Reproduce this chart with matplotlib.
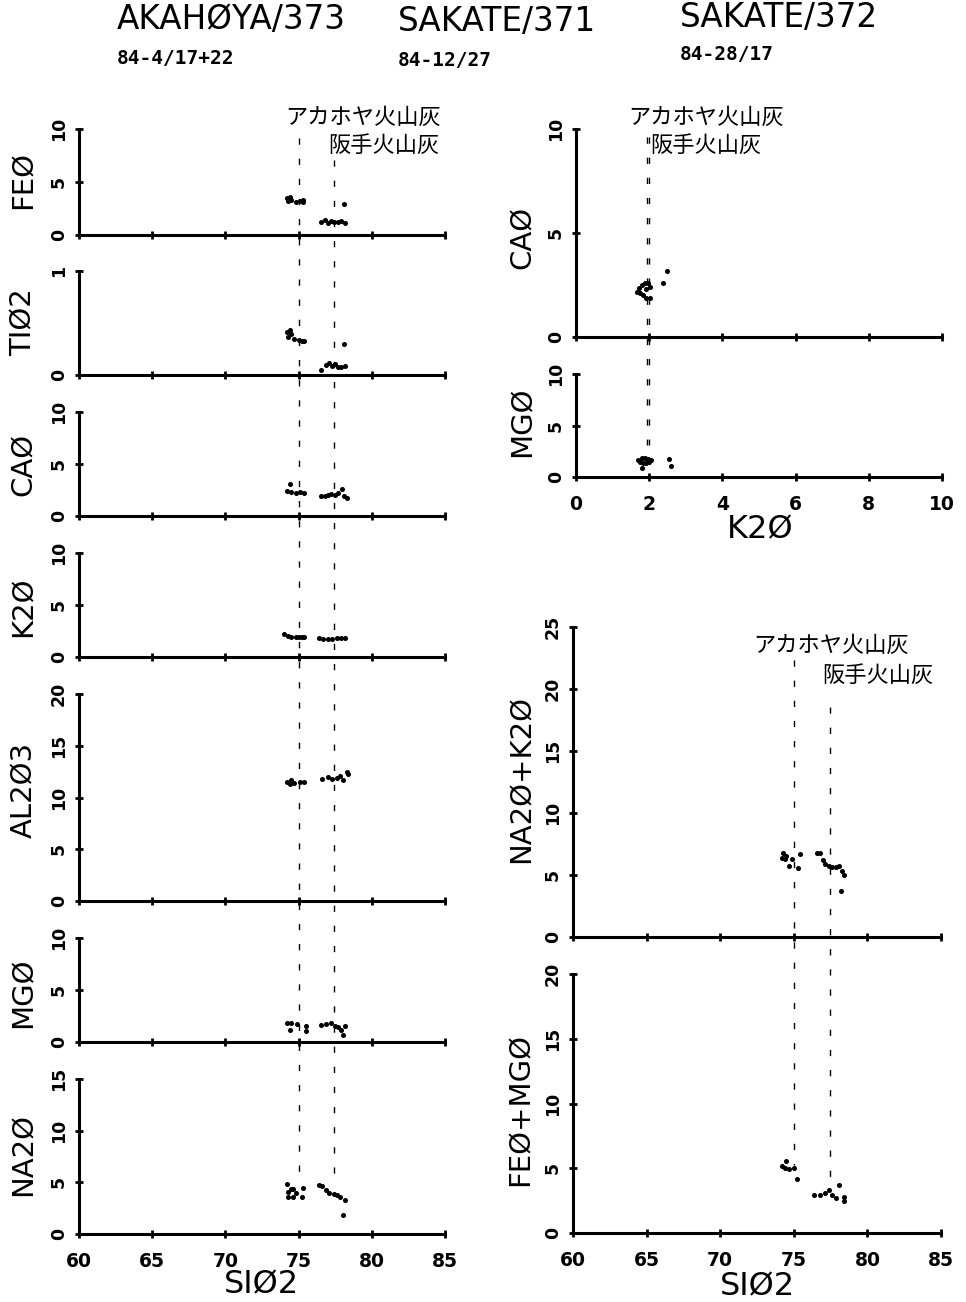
import matplotlib
matplotlib.use("Agg")
import matplotlib.pyplot as plt

# ---------------- data ----------------
SIO2_TICKS = [60, 65, 70, 75, 80, 85]
K2O_TICKS = [0, 2, 4, 6, 8, 10]

TITLES = ["AKAHØYA/373", "SAKATE/371", "SAKATE/372"]
SUBTITLES = ["84-4/17+22", "84-12/27", "84-28/17"]
ASH_AKA = "アカホヤ火山灰"
ASH_SAK = "阪手火山灰"

# left column: oxide vs SiO2 (Akahoya cluster / Sakate cluster)
FEO_AKA_X = [74.2, 74.4, 74.5, 74.3, 74.8, 75.1, 75.3, 75.3]
FEO_AKA_Y = [3.5, 3.6, 3.3, 3.2, 3.1, 3.2, 3.1, 3.3]
FEO_SAK_X = [76.5, 76.8, 77.0, 77.2, 77.4, 77.7, 77.9, 78.2, 78.1]
FEO_SAK_Y = [1.25, 1.4, 1.1, 1.35, 1.25, 1.2, 1.3, 1.1, 2.9]

TIO2_AKA_X = [74.2, 74.4, 74.5, 74.3, 74.7, 75.0, 75.2, 75.4]
TIO2_AKA_Y = [0.41, 0.43, 0.39, 0.37, 0.35, 0.34, 0.33, 0.33]
TIO2_SAK_X = [76.5, 76.9, 77.1, 77.3, 77.5, 77.7, 77.9, 78.2, 78.1]
TIO2_SAK_Y = [0.05, 0.10, 0.12, 0.09, 0.11, 0.08, 0.08, 0.09, 0.30]

CAO_AKA_X = [74.4, 74.2, 74.5, 74.8, 75.1, 75.4]
CAO_AKA_Y = [3.1, 2.45, 2.3, 2.25, 2.3, 2.25]
CAO_SAK_X = [76.5, 76.8, 77.0, 77.2, 77.5, 77.7, 77.95, 78.1, 78.3]
CAO_SAK_Y = [1.9, 1.95, 2.05, 2.15, 2.05, 2.25, 2.6, 1.95, 1.7]

K2O_AKA_X = [74.0, 74.3, 74.5, 74.8, 75.0, 75.2, 75.4]
K2O_AKA_Y = [2.2, 2.0, 1.9, 1.95, 1.95, 1.9, 1.95]
K2O_SAK_X = [76.4, 76.7, 77.0, 77.3, 77.6, 77.9, 78.2]
K2O_SAK_Y = [1.85, 1.75, 1.7, 1.75, 1.85, 1.8, 1.85]

AL2O3_AKA_X = [74.2, 74.5, 74.7, 74.4, 75.1, 75.4]
AL2O3_AKA_Y = [11.5, 11.7, 11.4, 11.3, 11.5, 11.45]
AL2O3_SAK_X = [76.6, 77.0, 77.3, 77.6, 77.8, 78.0, 78.4, 78.3]
AL2O3_SAK_Y = [11.8, 11.95, 11.8, 11.9, 12.1, 11.7, 12.3, 12.5]

MGO_AKA_X = [74.2, 74.5, 74.9, 74.4, 75.5, 75.5]
MGO_AKA_Y = [1.85, 1.8, 1.75, 1.2, 1.5, 1.1]
MGO_SAK_X = [76.5, 76.9, 77.2, 77.5, 77.7, 77.9, 78.0, 78.2]
MGO_SAK_Y = [1.65, 1.7, 1.8, 1.55, 1.4, 1.2, 0.7, 1.5]

NA2O_AKA_X = [74.2, 74.3, 74.5, 74.6, 74.8, 75.3, 74.3, 74.6, 75.2]
NA2O_AKA_Y = [4.85, 4.1, 4.35, 4.4, 3.95, 4.5, 3.6, 3.6, 3.6]
NA2O_SAK_X = [76.4, 76.6, 76.9, 77.1, 77.4, 77.6, 77.8, 78.2, 78.0]
NA2O_SAK_Y = [4.75, 4.65, 4.3, 4.0, 3.9, 3.8, 3.6, 3.3, 1.8]

# right top: CaO and MgO vs K2O
CAO_K2O_X = [1.66, 1.73, 1.79, 1.88, 1.97, 2.01, 1.92, 1.83, 1.92, 2.01, 1.75, 2.48, 2.39]
CAO_K2O_Y = [2.18, 2.34, 2.50, 2.58, 2.58, 2.42, 2.29, 2.02, 1.86, 1.86, 2.10, 3.19, 2.58]
MGO_K2O_X = [1.70, 1.79, 1.88, 1.97, 2.06, 1.83, 1.92, 1.79, 2.55, 2.60, 1.75, 2.00]
MGO_K2O_Y = [1.65, 1.80, 1.85, 1.70, 1.65, 1.35, 1.35, 0.90, 1.70, 1.05, 1.50, 1.50]

# right bottom: Na2O+K2O and FeO+MgO vs SiO2
ALK_AKA_X = [74.3, 74.2, 74.4, 74.5, 74.9, 74.7, 75.3, 75.4]
ALK_AKA_Y = [6.75, 6.4, 6.3, 6.5, 6.3, 5.75, 5.6, 6.7]
ALK_SAK_X = [76.55, 76.8, 77.0, 77.1, 77.4, 77.6, 77.85, 78.1, 78.3, 78.4, 78.2]
ALK_SAK_Y = [6.75, 6.75, 6.2, 5.9, 5.7, 5.65, 5.65, 5.7, 5.3, 5.0, 3.7]

FM_AKA_X = [74.2, 74.4, 74.5, 74.7, 75.0, 75.2]
FM_AKA_Y = [5.2, 5.0, 5.55, 4.95, 5.05, 4.2]
FM_SAK_X = [76.4, 76.8, 77.1, 77.4, 77.6, 77.9, 78.1, 78.4, 78.4]
FM_SAK_Y = [2.93, 2.93, 3.06, 3.3, 2.93, 2.67, 3.7, 2.8, 2.5]

# reference (dashed) lines
REF_SIO2 = [75.0, 77.45]
REF_K2O = [1.93, 2.0]

# ---------------- figure ----------------
W, H = 966, 1302
fig = plt.figure(figsize=(W / 100, H / 100), dpi=100)

LF = "DejaVu Sans"
MONO = "DejaVu Sans Mono"
JP = ["Noto Sans CJK JP", "DejaVu Sans"]


def fbox(l, r, t, b):
    return [l / W, 1 - b / H, (r - l) / W, (b - t) / H]


def ftext(x, y, s, **kw):
    fig.text(x / W, 1 - y / H, s, **kw)


def panel(l, r, t, b, xlim, xticks, ylim, yticks, xlabels=False, xpad=10):
    ax = fig.add_axes(fbox(l, r, t, b))
    ax.set_xlim(xlim)
    ax.set_ylim(ylim)
    ax.set_xticks(xticks)
    ax.set_yticks(yticks)
    ax.patch.set_visible(False)
    for s in ("top", "right"):
        ax.spines[s].set_visible(False)
    for s in ("left", "bottom"):
        ax.spines[s].set_linewidth(2.2)
    ax.tick_params(axis="both", direction="inout", length=6, width=2, color="black")
    ax.tick_params(axis="y", pad=5)
    ax.set_yticklabels([str(v) for v in yticks], rotation=90, va="center",
                       fontfamily=LF, fontweight="bold", fontsize=12.5)
    if xlabels:
        ax.set_xticklabels([str(v) for v in xticks], fontfamily=LF,
                           fontweight="bold", fontsize=13.5)
        ax.tick_params(axis="x", pad=xpad)
    else:
        ax.set_xticklabels([])
    return ax


def dots(ax, x, y):
    ax.plot(x, y, "o", ms=2.6, color="black", mec="black", clip_on=False, zorder=5)


DASH = (0, (4.5, 10))

# ---- left column ----
LX = (79, 445)
left = [
    ("FEØ", 129, 235, (0, 10), [0, 5, 10], FEO_AKA_X, FEO_AKA_Y, FEO_SAK_X, FEO_SAK_Y, 180),
    ("TIØ2", 271, 375, (0, 1), [0, 1], TIO2_AKA_X, TIO2_AKA_Y, TIO2_SAK_X, TIO2_SAK_Y, 322),
    ("CAØ", 412, 516, (0, 10), [0, 5, 10], CAO_AKA_X, CAO_AKA_Y, CAO_SAK_X, CAO_SAK_Y, 464),
    ("K2Ø", 553, 657, (0, 10), [0, 5, 10], K2O_AKA_X, K2O_AKA_Y, K2O_SAK_X, K2O_SAK_Y, 607),
    ("AL2Ø3", 694, 901, (0, 20), [0, 5, 10, 15, 20], AL2O3_AKA_X, AL2O3_AKA_Y, AL2O3_SAK_X, AL2O3_SAK_Y, 790),
    ("MGØ", 938, 1042, (0, 10), [0, 5, 10], MGO_AKA_X, MGO_AKA_Y, MGO_SAK_X, MGO_SAK_Y, 993),
    ("NA2Ø", 1079, 1234, (0, 15), [0, 5, 10, 15], NA2O_AKA_X, NA2O_AKA_Y, NA2O_SAK_X, NA2O_SAK_Y, 1154),
]
for i, (lab, t, b, yl, yt, ax_, ay_, sx_, sy_, lc) in enumerate(left):
    last = i == len(left) - 1
    ax = panel(LX[0], LX[1], t, b, (60, 85), SIO2_TICKS, yl, yt, xlabels=last, xpad=10)
    dots(ax, ax_, ay_)
    dots(ax, sx_, sy_)
    ftext(24, lc, lab, rotation=90, ha="center", va="center", fontfamily=LF, fontsize=21)
ftext(261, 1285, "SIØ2", ha="center", va="center", fontfamily=LF, fontsize=23)

ov = fig.add_axes(fbox(LX[0], LX[1], 0, H))
ov.set_xlim(60, 85)
ov.set_ylim(H, 0)
ov.axis("off")
ov.vlines(REF_SIO2[0], 138, 1180, colors="black", lw=1.0, linestyles=[DASH])
ov.vlines(REF_SIO2[1], 160, 1178, colors="black", lw=1.0, linestyles=[DASH])
ftext(285, 117, ASH_AKA, ha="left", va="center", fontfamily=JP, fontsize=16)
ftext(328, 145, ASH_SAK, ha="left", va="center", fontfamily=JP, fontsize=16)

# ---- right top ----
RX = (576, 942)
axc = panel(RX[0], RX[1], 129, 337, (0, 10), K2O_TICKS, (0, 10), [0, 5, 10])
dots(axc, CAO_K2O_X, CAO_K2O_Y)
ftext(523, 237, "CAØ", rotation=90, ha="center", va="center", fontfamily=LF, fontsize=21)
axm = panel(RX[0], RX[1], 374, 477, (0, 10), K2O_TICKS, (0, 10), [0, 5, 10], xlabels=True, xpad=10)
dots(axm, MGO_K2O_X, MGO_K2O_Y)
ftext(523, 422, "MGØ", rotation=90, ha="center", va="center", fontfamily=LF, fontsize=21)
ftext(760, 530, "K2Ø", ha="center", va="center", fontfamily=LF, fontsize=23)

ov2 = fig.add_axes(fbox(RX[0], RX[1], 0, H))
ov2.set_xlim(0, 10)
ov2.set_ylim(H, 0)
ov2.axis("off")
ov2.vlines(REF_K2O, 137, 445, colors="black", lw=1.0, linestyles=[DASH])
ftext(628, 117, ASH_AKA, ha="left", va="center", fontfamily=JP, fontsize=16)
ftext(650, 145, ASH_SAK, ha="left", va="center", fontfamily=JP, fontsize=16)

# ---- right bottom ----
BX = (573, 941)
axa = panel(BX[0], BX[1], 627, 937, (60, 85), SIO2_TICKS, (0, 25), [0, 5, 10, 15, 20, 25])
dots(axa, ALK_AKA_X, ALK_AKA_Y)
dots(axa, ALK_SAK_X, ALK_SAK_Y)
ftext(522, 779, "NA2Ø+K2Ø", rotation=90, ha="center", va="center", fontfamily=LF, fontsize=21)
axf = panel(BX[0], BX[1], 974, 1233, (60, 85), SIO2_TICKS, (0, 20), [0, 5, 10, 15, 20], xlabels=True, xpad=10)
dots(axf, FM_AKA_X, FM_AKA_Y)
dots(axf, FM_SAK_X, FM_SAK_Y)
ftext(521, 1110, "FEØ+MGØ", rotation=90, ha="center", va="center", fontfamily=LF, fontsize=21)
ftext(758, 1287, "SIØ2", ha="center", va="center", fontfamily=LF, fontsize=23)

ov3 = fig.add_axes(fbox(BX[0], BX[1], 0, H))
ov3.set_xlim(60, 85)
ov3.set_ylim(H, 0)
ov3.axis("off")
ov3.vlines(REF_SIO2[0], 660, 1165, colors="black", lw=1.0, linestyles=[DASH])
ov3.vlines(REF_SIO2[1], 707, 1190, colors="black", lw=1.0, linestyles=[DASH])
ftext(753, 645, ASH_AKA, ha="left", va="center", fontfamily=JP, fontsize=16)
ftext(822, 675, ASH_SAK, ha="left", va="center", fontfamily=JP, fontsize=16)

# ---- headings ----
for x, y, s in zip([117, 398, 680], [20, 22, 17], TITLES):
    ftext(x, y, s, ha="left", va="center", fontfamily=LF, fontsize=23.5)
for x, y, s in zip([117, 398, 680], [58, 60, 55], SUBTITLES):
    ftext(x, y, s, ha="left", va="center", fontfamily=MONO, fontweight="bold", fontsize=14)

fig.savefig("out.png", dpi=100, facecolor="white")
